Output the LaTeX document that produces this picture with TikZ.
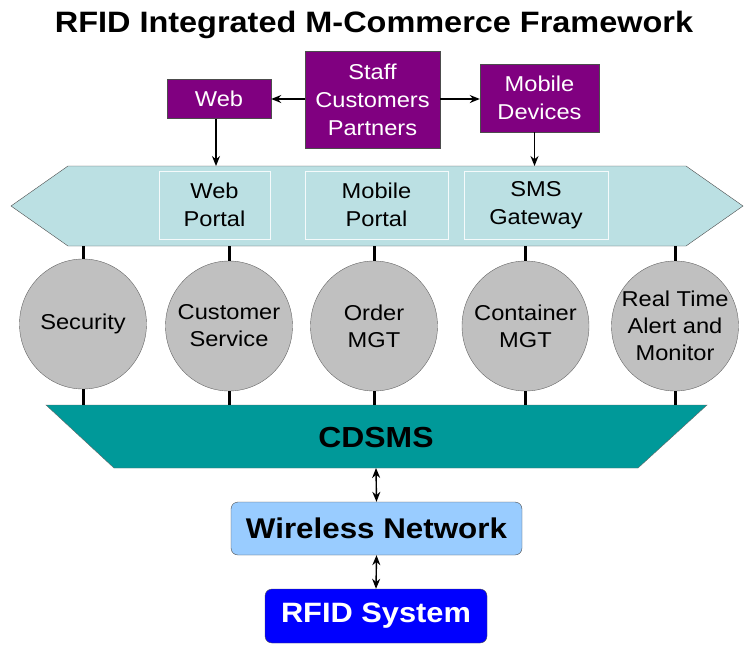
\documentclass[tikz,border=0pt]{standalone}
\usepackage{fontspec}
\setmainfont{Liberation Sans}[FakeStretch=1.1]
\usetikzlibrary{shapes.geometric,arrows.meta,positioning}

\definecolor{mpurple}{RGB}{128,0,128}
\definecolor{barcyan}{RGB}{187,224,227}
\definecolor{modgray}{RGB}{192,192,192}
\definecolor{cdteal}{RGB}{0,153,153}
\definecolor{netblue}{RGB}{153,204,255}
\definecolor{rfidblue}{RGB}{0,0,255}

\begin{document}
\begin{tikzpicture}[x=1pt, y=-1pt,
    user/.style={rectangle, draw=black!70, fill=mpurple, text=white, align=center, inner sep=0, font=\fontsize{21.5}{28}\selectfont},
    portal/.style={rectangle, draw=white!85!barcyan, align=center, inner sep=0, minimum height=68, font=\fontsize{21.5}{28}\selectfont},
    module/.style={ellipse, draw=black!60, fill=modgray, align=center, inner sep=-22pt, minimum width=127, minimum height=130, font=\fontsize{21.5}{27}\selectfont},
    link/.style={line width=3pt},
    arrow/.style={-{Stealth[length=10pt, width=8pt]}, line width=1.4pt},
    both/.style={{Stealth[length=10pt, width=8pt]}-{Stealth[length=10pt, width=8pt]}, line width=1.4pt}
]
\useasboundingbox (0,0) rectangle (747,646);

% Titel
\node[font=\bfseries\fontsize{29.5}{31}\selectfont] (title) at (374,25) {RFID Integrated M-Commerce Framework};

% Benutzer
\node[user, minimum width=104, minimum height=39] (web) at (219,99) {Web};
\node[user, minimum width=135, minimum height=97] (staff) at (372.5,100) {Staff\\Customers\\Partners};
\node[user, minimum width=119, minimum height=68] (mob) at (539.5,98) {Mobile\\Devices};

% Zugangsschicht
\fill[barcyan, draw=black!70] (11,206) -- (68,166) -- (686,166) -- (743,206) -- (686,246) -- (68,246) -- cycle;
\coordinate (bartop) at (377,166);
\coordinate (barbot) at (377,246);
\node[portal, minimum width=111] (wp) at (214.5,205) {Web\\Portal};
\node[portal, minimum width=143] (mp) at (376.5,205) {Mobile\\Portal};
\node[portal, minimum width=144] (sms) at (536,205) {SMS\\Gateway};

\draw[arrow] (staff.west |- web) -- (web.east);
\draw[arrow] (staff.east |- web) -- (mob.west |- web);
\draw[arrow] ([xshift=-3pt]web.south) -- ([xshift=-3pt]web.south |- bartop);
\draw[arrow] ([xshift=-5pt]mob.south) -- ([xshift=-5pt]mob.south |- bartop);

% Module
\node[module] (sec) at (83,324) {Security};
\node[module] (cs) at (229,326) {Customer\\Service};
\node[module] (om) at (374,326) {Order\\MGT};
\node[module] (cm) at (525.5,326) {Container\\MGT};
\node[module] (rt) at (675,326) {Real Time\\Alert and\\Monitor};

% CDSMS
\fill[cdteal, draw=black!60] (46,405) -- (707,405) -- (638,468) -- (114,468) -- cycle;
\coordinate (cdtop) at (376,405);
\coordinate (cdbot) at (376,468);
\node[font=\bfseries\fontsize{29}{30}\selectfont] (cd) at (376,438) {CDSMS};

\foreach \m in {sec,cs,om,cm,rt} {
  \draw[link] (\m.north) -- (\m.north |- barbot);
  \draw[link] (\m.south) -- (\m.south |- cdtop);
}

% Netz und RFID
\node[rectangle, rounded corners=7pt, draw=black!70, fill=netblue, minimum width=291, minimum height=53, inner sep=0,
      font=\bfseries\fontsize{28.5}{30}\selectfont] (wn) at (376.5,528.5) {Wireless Network};
\node[rectangle, rounded corners=7pt, draw=black!70, fill=rfidblue, text=white, minimum width=222, minimum height=54, inner sep=0,
      font=\bfseries\fontsize{28}{30}\selectfont] (rfid) at (376,616) {RFID System};

\draw[both] (cdbot) -- (wn.north);
\draw[both] (wn.south) -- (rfid.north);

\end{tikzpicture}
\end{document}
